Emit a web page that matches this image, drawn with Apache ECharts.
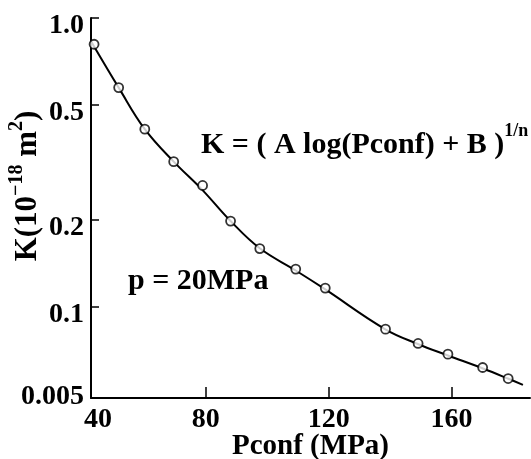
<!DOCTYPE html>
<html><head><meta charset="utf-8">
<script src="https://cdn.jsdelivr.net/npm/echarts@6/dist/echarts.min.js"></script>
<style>html,body{margin:0;padding:0;background:#fff}#c{width:531px;height:459px}</style>
</head><body><div id="c"></div>
<script>
// measured points (circles)
const pconfMeasured = [43.7, 51.7, 60.2, 69.6, 79.0, 88.1, 97.6, 109.3, 118.9, 138.5, 149.1, 158.8, 170.1, 178.4];
const kMeasured = [0.811, 0.574, 0.412, 0.318, 0.263, 0.198, 0.159, 0.135, 0.116, 0.0836, 0.0746, 0.0685, 0.0616, 0.0564];
// fitted curve
const pconfFit = [42.8, 51.7, 60.2, 69.6, 78.9, 88.1, 97.7, 109.3, 118.8, 138.3, 149.0, 158.8, 170.2, 178.3, 183.2];
const kFit = [0.828, 0.574, 0.412, 0.318, 0.254, 0.198, 0.159, 0.1335, 0.115, 0.0837, 0.0743, 0.0678, 0.0611, 0.0564, 0.0536];
// axes
const xTickValues = [80, 120, 160];
const xLabelValues = [42.7, 80, 120, 160];
const xLabelTexts = ['40', '80', '120', '160'];
const yTickValues = [1.0, 0.5, 0.2, 0.1];
const yLabelValues = [1.0, 0.5, 0.2, 0.1, 0.0519];
const yLabelTexts = ['1.0', '0.5', '0.2', '0.1', '0.005'];

const FONT = '"Liberation Serif", "Times New Roman", serif';
const chart = echarts.init(document.getElementById('c'), null, {renderer: 'canvas'});

function labelIndex(values, v) {
  let best = 0, bd = Infinity;
  values.forEach((x, i) => { const d = Math.abs(x - v); if (d < bd) { bd = d; best = i; } });
  return best;
}
const base = {fontFamily: FONT, fontWeight: 'bold', fontSize: 28, color: '#000'};

chart.setOption({
  animation: false,
  backgroundColor: '#fff',
  grid: {left: 91, right: 1, top: 18, bottom: 61, containLabel: false, outerBoundsMode: 'none'},
  xAxis: {
    type: 'value', min: 42.7, max: 185.5,
    axisLine: {show: true, lineStyle: {color: '#000', width: 2}},
    axisTick: {show: true, inside: true, length: 11, customValues: xTickValues, lineStyle: {color: '#000', width: 1.5}},
    axisLabel: {
      customValues: xLabelValues, margin: 8,
      formatter: v => { const i = labelIndex(xLabelValues, v); return (i === 0 ? '{f|' : '{n|') + xLabelTexts[i] + '}'; },
      color: '#000', fontFamily: FONT, fontWeight: 'bold', fontSize: 28,
      rich: {f: Object.assign({padding: [0, 0, 0, 14]}, base), n: Object.assign({}, base)}
    },
    splitLine: {show: false},
    name: 'Pconf (MPa)', nameLocation: 'middle', nameGap: 34, nameMoveOverlap: false,
    nameTextStyle: {color: '#000', fontFamily: FONT, fontWeight: 'bold', fontSize: 29}
  },
  yAxis: {
    type: 'log', logBase: 10, min: 0.04829, max: 1,
    axisLine: {show: true, lineStyle: {color: '#000', width: 2}},
    axisTick: {show: true, inside: true, length: 8, customValues: yTickValues, lineStyle: {color: '#000', width: 1.5}},
    axisLabel: {
      customValues: yLabelValues, margin: 7,
      formatter: v => '{a|' + yLabelTexts[labelIndex(yLabelValues, v)] + '}',
      color: '#000', fontFamily: FONT, fontWeight: 'bold', fontSize: 28,
      rich: {a: Object.assign({padding: [16, 0, 0, 0]}, base)}
    },
    splitLine: {show: false},
    minorTick: {show: false}
  },
  graphic: [
    {
      type: 'text', x: 25, y: 186, rotation: Math.PI / 2,
      style: {
        text: '{m|K(10}{s|−18}{m| m}{s|2}{m|)}',
        align: 'center', verticalAlign: 'middle',
        rich: {
          m: {fontFamily: FONT, fontWeight: 'bold', fontSize: 31, lineHeight: 36, verticalAlign: 'bottom', fill: '#000'},
          s: {fontFamily: FONT, fontWeight: 'bold', fontSize: 20, lineHeight: 18, verticalAlign: 'top', fill: '#000'}
        }
      }
    },
    {
      type: 'text', x: 201, y: 141,
      style: {
        text: '{m|K = ( A log(Pconf) + B )}{s|1/n}',
        align: 'left', verticalAlign: 'middle',
        rich: {
          m: {fontFamily: FONT, fontWeight: 'bold', fontSize: 30, lineHeight: 38, verticalAlign: 'bottom', fill: '#000'},
          s: {fontFamily: FONT, fontWeight: 'bold', fontSize: 18, lineHeight: 18, verticalAlign: 'top', fill: '#000'}
        }
      }
    },
    {
      type: 'text', x: 128, y: 281,
      style: {text: 'p = 20MPa', align: 'left', verticalAlign: 'middle',
        font: 'bold 30px ' + FONT, fill: '#000'}
    }
  ],
  series: [
    {
      type: 'line', data: pconfFit.map((p, i) => [p, kFit[i]]), smooth: 0.4,
      showSymbol: false, symbol: 'none', lineStyle: {color: '#000', width: 2}, z: 2
    },
    {
      type: 'scatter', data: pconfMeasured.map((p, i) => [p, kMeasured[i]]),
      symbol: 'circle', symbolSize: 9,
      itemStyle: {color: '#fff', borderColor: '#000', borderWidth: 1.8}, z: 3
    }
  ]
});
</script></body></html>
